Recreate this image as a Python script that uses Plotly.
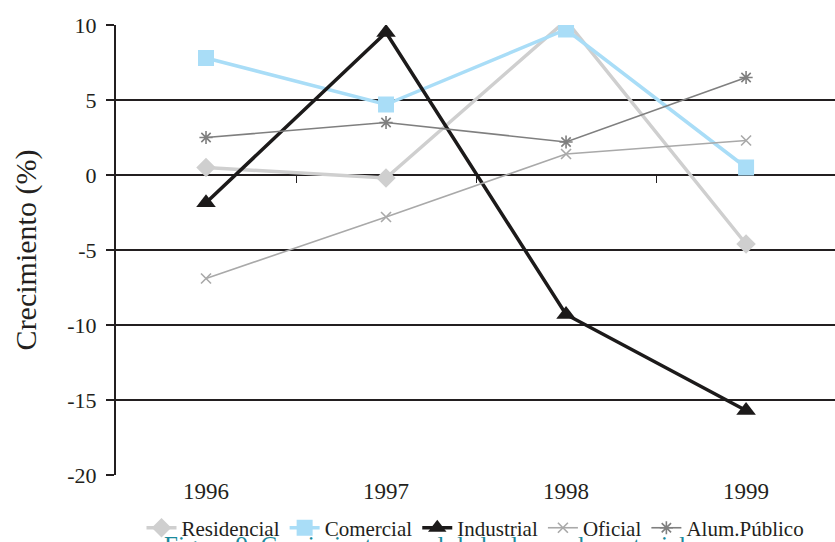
import plotly.graph_objects as go

years = ["1996", "1997", "1998", "1999"]
residencial = [0.5, -0.2, 10.3, -4.6]
comercial = [7.8, 4.7, 9.7, 0.5]
industrial = [-1.85, 9.5, -9.3, -15.7]
oficial = [-6.9, -2.8, 1.4, 2.3]
alum_publico = [2.5, 3.5, 2.2, 6.5]

y_ticks = [10, 5, 0, -5, -10, -15, -20]

FONT = "Liberation Serif"
INK = "#231f20"

series = [
    ("Residencial", residencial, "#cfcfcf", 3.5, "diamond", 15, 0),
    ("Comercial", comercial, "#a9ddf7", 3.5, "square", 16, 0),
    ("Industrial", industrial, "#1c1a1a", 3.5, "triangle-up", 17, 0),
    ("Oficial", oficial, "#a9a9a9", 1.6, "x-thin-open", 10, 1.6),
    ("Alum.Público", alum_publico, "#7f7f7f", 1.6, "asterisk-open", 11, 1.6),
]

fig = go.Figure()
for name, vals, color, width, symbol, size, mlw in series:
    fig.add_trace(go.Scatter(
        x=years, y=vals, name=name, mode="lines+markers",
        line=dict(color=color, width=width),
        marker=dict(symbol=symbol, size=size, color=color,
                    line=dict(color=color, width=mlw)),
    ))

# invisible trace on the secondary x axis that carries the category ticks on y=0
fig.add_trace(go.Scatter(x=[0, 3], y=[0, 0], xaxis="x2", mode="none",
                         showlegend=False, hoverinfo="skip"))

fig.update_layout(
    width=835, height=542,
    margin=dict(l=116, r=0, t=25, b=67, autoexpand=False),
    paper_bgcolor="white", plot_bgcolor="white",
    font=dict(family=FONT, color=INK, size=22),
    showlegend=True,
    legend=dict(orientation="h", x=0.5, xanchor="center", y=-0.118,
                yanchor="middle", font=dict(size=21, family=FONT, color=INK),
                itemwidth=30, tracegroupgap=0, traceorder="normal",
                bgcolor="rgba(0,0,0,0)"),
    xaxis=dict(type="category", range=[-0.5, 3.494], showgrid=False,
               showline=False, ticks="", zeroline=False,
               tickfont=dict(size=23, family=FONT, color=INK)),
    xaxis2=dict(overlaying="x", anchor="free", position=2 / 3,
                range=[-0.5, 3.494], tickvals=[0.5, 1.5, 2.5], ticks="outside",
                ticklen=7, tickcolor=INK, tickwidth=1,
                showticklabels=False, showgrid=False, showline=False,
                zeroline=False),
    yaxis=dict(range=[-20, 10], tickvals=y_ticks, ticktext=[str(v) for v in y_ticks],
               showgrid=True, gridcolor=INK, gridwidth=2,
               zeroline=True, zerolinecolor=INK, zerolinewidth=2,
               showline=True, linecolor=INK, linewidth=2,
               ticks="outside", ticklen=8, tickcolor=INK, tickwidth=1.5,
               ticklabelstandoff=5,
               tickfont=dict(size=22, family=FONT, color=INK),
               title=dict(text="Crecimiento (%)", font=dict(size=30, family=FONT, color=INK),
                          standoff=22)),
)

fig.add_annotation(
    text="Figura 9. Crecimiento anual de la demanda sectorial",
    xref="paper", yref="paper", x=0.43, y=-0.122, xanchor="center",
    yanchor="top", showarrow=False,
    font=dict(size=25, family=FONT, color="#1a8a9c"),
)

fig.write_html("out.html")
